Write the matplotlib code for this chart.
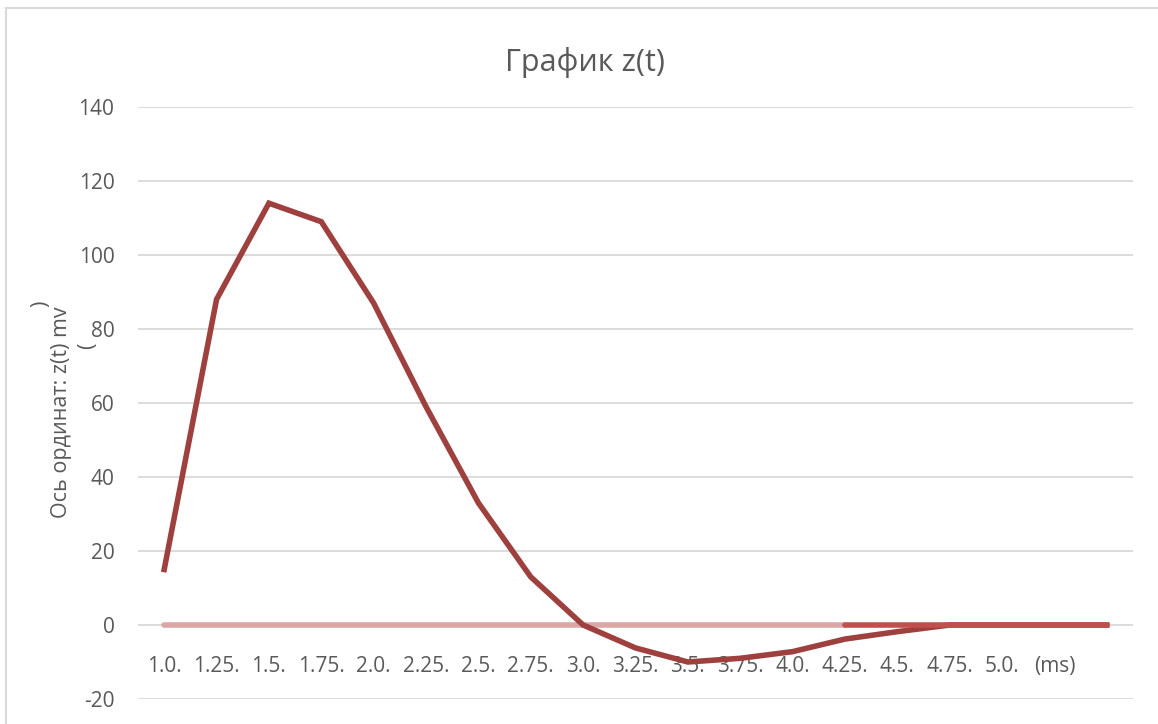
import matplotlib.pyplot as plt
from matplotlib.lines import Line2D
import numpy as np

plt.rcParams['font.family'] = ['Open Sans', 'DejaVu Sans']
plt.rcParams['axes.unicode_minus'] = False

# время, мс (последняя категория без подписи)
t_labels = ['1.0.', '1.25.', '1.5.', '1.75.', '2.0.', '2.25.', '2.5.', '2.75.', '3.0.',
            '3.25.', '3.5.', '3.75.', '4.0.', '4.25.', '4.5.', '4.75.', '5.0.', '(ms)', '']
# z(t), mv
z = [15, 88, 114, 109, 87, 59, 33, 13, 0, -6.2, -10, -9, -7.2, -3.8, -1.8, 0, 0, 0, 0]
# нулевые линии: первая до 4.25, вторая с 4.25 до конца
zero_a = [0] * 14
zero_b = [0] * 6

GRAY = '#595959'
fig = plt.figure(figsize=(11.58, 7.24), dpi=100)
ax = fig.add_axes([138 / 1158, 1 - 699 / 724, (1133 - 138) / 1158, (699 - 107) / 724])

x = np.arange(len(t_labels))
ax.plot(x[:len(zero_a)], zero_a, color='#DAA7A6', lw=4, solid_capstyle='round', zorder=3)
ax.plot(x, z, color='#9E403D', lw=4, solid_joinstyle='miter', zorder=4)
ax.plot(x[-len(zero_b):], zero_b, color='#C0504D', lw=4, solid_capstyle='round', zorder=5)

ax.set_xlim(-0.5, len(t_labels) - 0.5)
ax.set_ylim(-20, 140)
ax.set_yticks(np.arange(-20, 141, 20))
ax.grid(axis='y', color='#D9D9D9', lw=1.3)
ax.set_axisbelow(True)
for s in ax.spines.values():
    s.set_visible(False)
ax.spines['bottom'].set_position(('data', 0))
ax.set_xticks(x)
ax.set_xticklabels(t_labels)
ax.tick_params(axis='x', length=0, pad=22, labelsize=15, labelcolor=GRAY)
ax.tick_params(axis='y', length=0, pad=17, labelsize=15, labelcolor=GRAY)

fig.text(585 / 1158, 1 - 62 / 724, 'График z(t)', ha='center', va='center',
         fontsize=22, color=GRAY)
fig.text(62 / 1158, 1 - 412 / 724, 'Ось ординат: z(t) mv', ha='center', va='center',
         rotation=90, fontsize=15.5, color=GRAY)
fig.text(41 / 1158, 1 - 304 / 724, ')', ha='center', va='center',
         rotation=90, fontsize=15.5, color=GRAY)
fig.text(88 / 1158, 1 - 346 / 724, '(', ha='center', va='center',
         rotation=90, fontsize=15.5, color=GRAY)

# рамка диаграммы
fig.add_artist(Line2D([6 / 1158, 6 / 1158], [0, 1 - 7.5 / 724], color='#D9D9D9', lw=1.5))
fig.add_artist(Line2D([6 / 1158, 1], [1 - 7.5 / 724, 1 - 7.5 / 724], color='#D9D9D9', lw=1.5))

fig.savefig('out.png', dpi=100, facecolor='white')
